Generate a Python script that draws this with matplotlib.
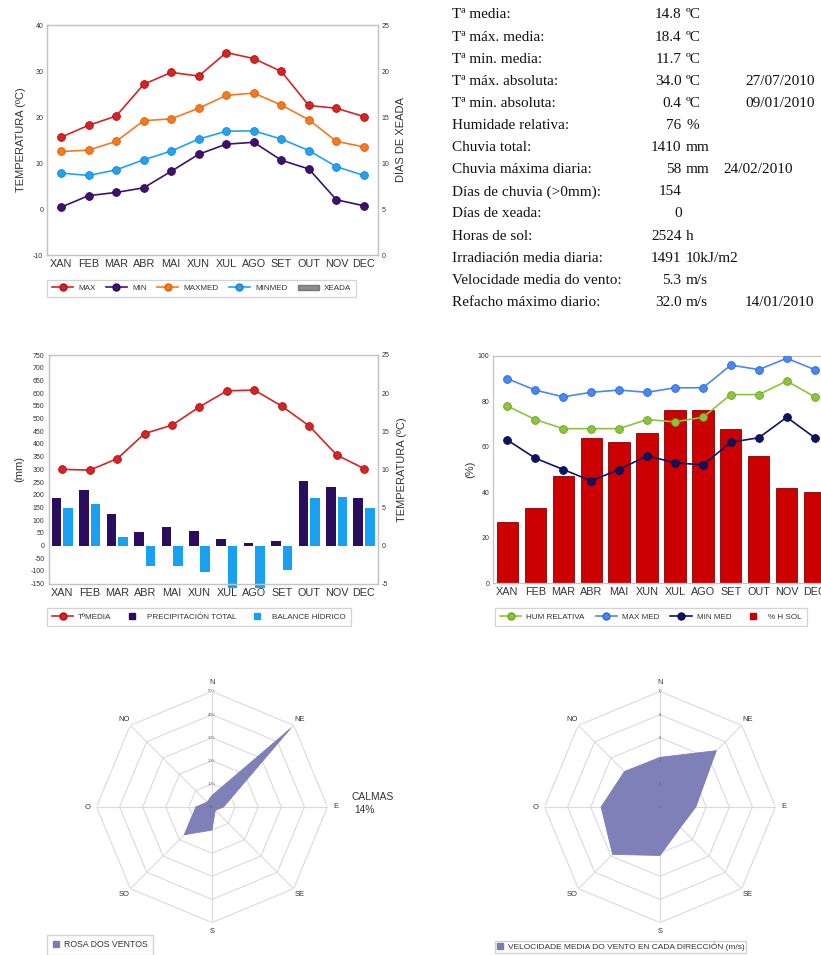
import matplotlib
matplotlib.use('Agg')
import matplotlib.pyplot as plt
import numpy as np
from matplotlib.lines import Line2D
from matplotlib.patches import Patch

plt.rcParams['font.family'] = ['Liberation Sans', 'DejaVu Sans']
plt.rcParams['axes.unicode_minus'] = False

# ---------------- data ----------------
months = ['XAN', 'FEB', 'MAR', 'ABR', 'MAI', 'XUN', 'XUL', 'AGO', 'SET', 'OUT', 'NOV', 'DEC']

t_max = [15.6, 18.2, 20.2, 27.1, 29.7, 28.9, 34.0, 32.7, 29.9, 22.5, 21.9, 20.1]
t_min = [0.4, 2.9, 3.6, 4.6, 8.2, 11.9, 14.1, 14.5, 10.6, 8.7, 2.0, 0.7]
t_maxmed = [12.5, 12.8, 14.7, 19.2, 19.6, 21.9, 24.7, 25.2, 22.6, 19.4, 14.7, 13.5]
t_minmed = [7.8, 7.3, 8.5, 10.7, 12.6, 15.2, 16.9, 17.0, 15.2, 12.7, 9.2, 7.3]
xeada = [0, 0, 0, 0, 0, 0, 0, 0, 0, 0, 0, 0]

t_media = [10.0, 9.9, 11.4, 14.7, 15.8, 18.2, 20.3, 20.4, 18.3, 15.7, 11.9, 10.1]
precip = [189, 217, 125, 53, 74, 59, 24, 9, 18, 255, 230, 186]
balance = [149, 163, 33, -79, -80, -105, -168, -168, -97, 188, 192, 146]

hum_rel = [78, 72, 68, 68, 68, 72, 71, 73, 83, 83, 89, 82]
hum_max = [90, 85, 82, 84, 85, 84, 86, 86, 96, 94, 99, 94]
hum_min = [63, 55, 50, 45, 50, 56, 53, 52, 62, 64, 73, 64]
sol_pct = [27, 33, 47, 64, 62, 66, 76, 76, 68, 56, 42, 40]

rose_dirs = ['N', 'NE', 'E', 'SE', 'S', 'SO', 'O', 'NO']
rose_freq = [5, 48, 5, 2, 10, 17, 7, 3]
rose_speed = [4.3, 6.9, 3.1, 2.5, 4.2, 5.8, 5.1, 4.35]
calmas = 14

summary_labels = ['Tª media:', 'Tª máx. media:', 'Tª min. media:', 'Tª máx. absoluta:',
                  'Tª min. absoluta:', 'Humidade relativa:', 'Chuvia total:',
                  'Chuvia máxima diaria:', 'Días de chuvia (>0mm):', 'Días de xeada:',
                  'Horas de sol:', 'Irradiación media diaria:', 'Velocidade media do vento:',
                  'Refacho máximo diario:']
summary_values = ['14.8', '18.4', '11.7', '34.0', '0.4', '76', '1410', '58', '154', '0',
                  '2524', '1491', '5.3', '32.0']
summary_units = ['ºC', 'ºC', 'ºC', 'ºC', 'ºC', '%', 'mm', 'mm', '', '', 'h', '10kJ/m2', 'm/s', 'm/s']
summary_dates = ['', '', '', '27/07/2010', '09/01/2010', '', '', '24/02/2010', '', '', '', '', '',
                 '14/01/2010']

# ---------------- figure ----------------
W, H = 821, 955
fig = plt.figure(figsize=(W / 100, H / 100), dpi=100)
fig.patch.set_facecolor('white')


def ax_at(l, t, r, b, **kw):
    return fig.add_axes([l / W, 1 - b / H, (r - l) / W, (b - t) / H], **kw)


SPINE = '#c4c4c4'
TXT = '#333333'
LEG_FS = 5.9
LAB_FS = 8.0


def style(ax, ytick_size=5):
    for s in ax.spines.values():
        s.set_color(SPINE)
        s.set_linewidth(0.9)
    ax.tick_params(axis='both', length=0, colors=TXT)
    ax.tick_params(axis='y', labelsize=ytick_size, pad=3)
    ax.tick_params(axis='x', labelsize=7.8, pad=3)


def legend_box(handles, labels, l, t, r, b, ncol):
    lg = fig.legend(handles, labels, loc='center', ncol=ncol, mode='expand',
                    bbox_to_anchor=(l / W, 1 - b / H, (r - l) / W, (b - t) / H),
                    fontsize=LEG_FS, frameon=True, fancybox=False, handlelength=2.6,
                    handletextpad=0.6, borderaxespad=0, borderpad=0.6, columnspacing=1.0)
    fr = lg.get_frame()
    fr.set_edgecolor('#c8c8c8')
    fr.set_linewidth(0.9)
    for tx in lg.get_texts():
        tx.set_color(TXT)
    return lg


x = np.arange(len(months))

# ---------------- chart 1: temperatures ----------------
C_MAX, C_MIN, C_MAXMED, C_MINMED = '#d42424', '#40106e', '#f47a22', '#22a2f2'
ax1 = ax_at(47.3, 25, 377.7, 255)
ax1r = ax1.twinx()
ax1r.bar(x, xeada, width=0.6, color='#8c8c8c')
ax1r.set_ylim(0, 25)
ax1r.set_yticks(np.arange(0, 26, 5))
for ser, c, ec in [(t_max, C_MAX, '#b01010'), (t_min, C_MIN, '#2a0650'),
                   (t_maxmed, C_MAXMED, '#d8600c'), (t_minmed, C_MINMED, '#1284d0')]:
    ax1.plot(x, ser, '-o', color=c, lw=1.2, ms=5.6, mec=ec, mew=0.6, zorder=3)
ax1.set_xlim(-0.5, 11.5)
ax1.set_ylim(-10, 40)
ax1.set_yticks(np.arange(-10, 41, 10))
ax1.set_xticks(x)
ax1.set_xticklabels(months)
ax1.set_zorder(ax1r.get_zorder() + 1)
ax1.patch.set_visible(False)
style(ax1)
style(ax1r)
ax1.set_ylabel('TEMPERATURA (ºC)', fontsize=LAB_FS, color=TXT)
ax1.yaxis.set_label_coords(-0.063, 0.5)
ax1r.set_ylabel('DÍAS DE XEADA', fontsize=LAB_FS, color=TXT, rotation=90)
ax1r.yaxis.set_label_coords(1.056, 0.5)

h1 = [Line2D([], [], color=C_MAX, marker='o', ms=5, mec='#b01010', lw=1.2),
      Line2D([], [], color=C_MIN, marker='o', ms=5, mec='#2a0650', lw=1.2),
      Line2D([], [], color=C_MAXMED, marker='o', ms=5, mec='#d8600c', lw=1.2),
      Line2D([], [], color=C_MINMED, marker='o', ms=5, mec='#1284d0', lw=1.2),
      Patch(facecolor='#8c8c8c', edgecolor='#777777')]
legend_box(h1, ['MAX', 'MIN', 'MAXMED', 'MINMED', 'XEADA'], 47, 277, 356, 300, 5)

# ---------------- summary table ----------------
for i in range(len(summary_labels)):
    yy = 1 - (15 + i * 22.1) / H
    kw = dict(fontsize=11, family=['Liberation Serif', 'DejaVu Serif'], va='center', color='#111111')
    fig.text(452 / W, yy, summary_labels[i], ha='left', **kw)
    fig.text(681.5 / W, yy, summary_values[i], ha='right', **kw)
    if summary_units[i]:
        fig.text(686 / W, yy, summary_units[i], ha='left', **kw)
    if summary_dates[i]:
        dx = 723 if summary_units[i] == 'mm' else 745
        fig.text(dx / W, yy, summary_dates[i], ha='left', **kw)

# ---------------- chart 2: precipitation ----------------
C_PRE, C_BAL = '#2b0d5e', '#1aa0f0'
ax2 = ax_at(48.7, 355, 377.7, 583.7)
ax2.bar(x - 0.21, precip, width=0.35, color=C_PRE, zorder=2)
ax2.bar(x + 0.21, balance, width=0.35, color=C_BAL, zorder=2, clip_on=False)
ax2.set_xlim(-0.5, 11.5)
ax2.set_ylim(-150, 750)
ax2.set_yticks(np.arange(-150, 751, 50))
ax2.set_xticks(x)
ax2.set_xticklabels(months)
ax2r = ax2.twinx()
ax2r.plot(x, t_media, '-o', color=C_MAX, lw=1.2, ms=5.6, mec='#b01010', mew=0.6, zorder=3)
ax2r.set_ylim(-5, 25)
ax2r.set_yticks(np.arange(-5, 26, 5))
style(ax2)
style(ax2r)
ax2.set_ylabel('(mm)', fontsize=LAB_FS, color=TXT)
ax2.yaxis.set_label_coords(-0.0736, 0.5)
ax2r.set_ylabel('TEMPERATURA (ºC)', fontsize=LAB_FS, color=TXT)
ax2r.yaxis.set_label_coords(1.06, 0.5)
h2 = [Line2D([], [], color=C_MAX, marker='o', ms=5, mec='#b01010', lw=1.2),
      Line2D([], [], color='none', marker='s', ms=4, mfc=C_PRE, mec=C_PRE),
      Line2D([], [], color='none', marker='s', ms=4, mfc=C_BAL, mec=C_BAL)]
legend_box(h2, ['TºMEDIA', 'PRECIPITACIÓN TOTAL', 'BALANCE HÍDRICO'], 47, 606, 351, 628, 3)

# ---------------- chart 3: humidity ----------------
C_HUM, C_HMAX, C_HMIN, C_SOL = '#8cc43c', '#4a88f0', '#0c1466', '#cc0000'
ax3 = ax_at(493.3, 356, 828.7, 583)
ax3.bar(x, sol_pct, width=0.76, color=C_SOL, edgecolor='#8a0000', linewidth=0.6, zorder=2)
for ser, c, ec in [(hum_rel, C_HUM, '#6ea020'), (hum_max, C_HMAX, '#2a68d0'),
                   (hum_min, C_HMIN, '#050a40')]:
    ax3.plot(x, ser, '-o', color=c, lw=1.2, ms=5.6, mec=ec, mew=0.6, zorder=3)
ax3.set_xlim(-0.5, 11.5)
ax3.set_ylim(0, 100)
ax3.set_yticks(np.arange(0, 101, 20))
ax3.set_xticks(x)
ax3.set_xticklabels(months)
style(ax3)
ax3.set_ylabel('(%)', fontsize=LAB_FS, color=TXT)
ax3.yaxis.set_label_coords(-0.0546, 0.5)
h3 = [Line2D([], [], color=C_HUM, marker='o', ms=5, mec='#6ea020', lw=1.2),
      Line2D([], [], color=C_HMAX, marker='o', ms=5, mec='#2a68d0', lw=1.2),
      Line2D([], [], color=C_HMIN, marker='o', ms=5, mec='#050a40', lw=1.2),
      Line2D([], [], color='none', marker='s', ms=4, mfc=C_SOL, mec=C_SOL)]
legend_box(h3, ['HUM RELATIVA', 'MAX MED', 'MIN MED', '% H SOL'], 495, 606, 807, 628, 4)

# ---------------- wind roses ----------------
C_ROSE = '#7c7cb6'
GRID = '#dadada'


def radar(cx, cy, R, rmax, ticks, ticklabels, values):
    ax = fig.add_axes([(cx - R) / W, 1 - (cy + R) / H, 2 * R / W, 2 * R / H], projection='polar')
    ax.set_theta_zero_location('N')
    ax.set_theta_direction(-1)
    ax.set_ylim(0, rmax)
    ax.grid(False)
    ax.spines['polar'].set_visible(False)
    ax.set_xticks([])
    ax.set_yticks([])
    ax.patch.set_alpha(0)
    ang = np.deg2rad(np.arange(len(rose_dirs)) * 45.0)
    closed = np.append(ang, ang[0])
    for t in ticks[1:]:
        ax.plot(closed, [t] * len(closed), color=GRID, lw=0.8, zorder=1)
    for a in ang:
        ax.plot([a, a], [0, rmax], color=GRID, lw=0.8, zorder=1)
    vals = np.append(values, values[0])
    ax.fill(closed, vals, color=C_ROSE, alpha=0.97, lw=0.6, zorder=3)
    for a, d in zip(ang, rose_dirs):
        ax.text(a, rmax * 1.075, d, ha='center', va='center', fontsize=5.5, color=TXT,
                clip_on=False)
    for t, lab in zip(ticks, ticklabels):
        ax.text(0, t, lab, ha='center', va='center', fontsize=3, color='#666666', zorder=4,
                clip_on=False)
    return ax


radar(212, 807, 115.5, 50, [0, 10, 20, 30, 40, 50],
      ['0%', '10%', '20%', '30%', '40%', '50%'], rose_freq)
radar(660, 807, 115.5, 10, [0, 2, 4, 6, 8, 10],
      ['0', '2', '4', '6', '8', '10'], rose_speed)

fig.text(351 / W, 1 - 797 / H, 'CALMAS', fontsize=7.4, color=TXT, ha='left', va='center')
fig.text(354 / W, 1 - 810 / H, f'{calmas}%', fontsize=7.4, color=TXT, ha='left', va='center')

h4 = [Line2D([], [], color='none', marker='s', ms=4.5, mfc=C_ROSE, mec=C_ROSE)]
lg4 = fig.legend(h4, ['ROSA DOS VENTOS'], loc='upper left', bbox_to_anchor=(47 / W, 1 - 935 / H),
                 fontsize=6.3, frameon=True, fancybox=False, handlelength=0.8,
                 handletextpad=0.5, borderaxespad=0, borderpad=0.6)
lg4.get_frame().set_edgecolor('#c8c8c8')
lg4.get_texts()[0].set_color(TXT)
lg5 = fig.legend(h4, ['VELOCIDADE MEDIA DO VENTO EN CADA DIRECCIÓN (m/s)'], loc='upper left',
                 bbox_to_anchor=(495 / W, 1 - 941 / H), fontsize=6.0, frameon=True,
                 fancybox=False, handlelength=0.8, handletextpad=0.5, borderaxespad=0,
                 borderpad=0.2)
lg5.get_frame().set_edgecolor('#c8c8c8')
lg5.get_texts()[0].set_color(TXT)

fig.savefig('out.png', dpi=100, facecolor='white')
